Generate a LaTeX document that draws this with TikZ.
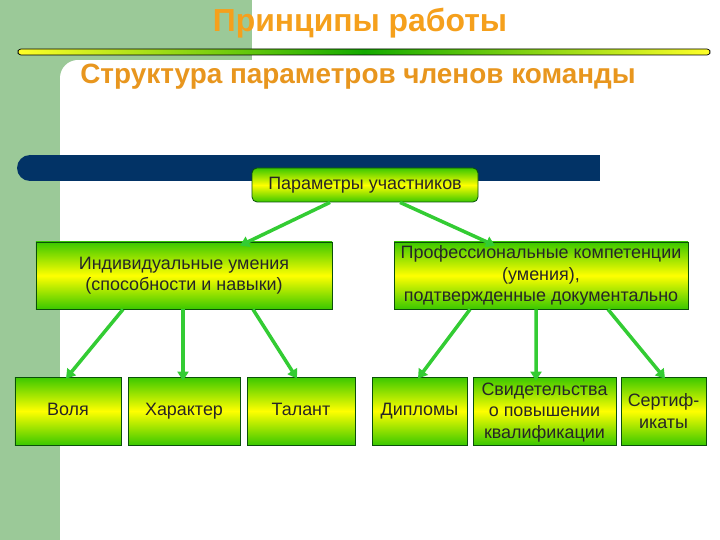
\documentclass[tikz,border=0pt]{standalone}
\usepackage{fontspec}
\setmainfont{Liberation Sans}
\usetikzlibrary{arrows.meta}
\definecolor{stripe}{RGB}{155,201,152}
\definecolor{navy}{RGB}{2,51,102}
\definecolor{ttl}{RGB}{245,160,28}
\definecolor{sub}{RGB}{232,150,30}
\definecolor{bgrn}{RGB}{58,200,0}
\definecolor{byel}{RGB}{255,255,0}
\definecolor{bord}{RGB}{10,80,10}
\definecolor{arr}{RGB}{51,204,51}
\definecolor{lgrn}{RGB}{20,170,0}
\definecolor{lyel}{RGB}{255,255,40}
\tikzset{
  box/.style={draw=bord, line width=0.8bp, top color=bgrn, bottom color=bgrn, middle color=byel,
    align=center, inner sep=0pt, font=\fontsize{18}{21.5}\selectfont, text=black!85},
  single/.style={text height=13bp, text depth=4bp},
  conn/.style={draw=arr, line width=3.5bp, -{Triangle[length=9bp,width=11bp]}},
  ttlstyle/.style={font=\bfseries\fontsize{32}{36}\selectfont},
  substyle/.style={font=\bfseries\fontsize{28}{32}\selectfont}
}
\begin{document}
\begin{tikzpicture}[x=1bp,y=-1bp]
\useasboundingbox (0,0) rectangle (720,540);
% background
\fill[white] (0,0) rectangle (720,540);
\fill[stripe] (0,0) rectangle (252,60);
\fill[stripe] (0,0) rectangle (60,540);
\fill[stripe] (60,60) rectangle (78,78);
\fill[white] (78,78) circle[radius=18bp];
\fill[white] (78,60) rectangle (252,78);
% title line
\draw[black, line width=0.7bp, rounded corners=3bp, left color=lyel, right color=lyel, middle color=lgrn]
  (18,49) rectangle (710,55);
% titles
\node[ttlstyle, text=ttl] (title) at (360,23) {Принципы работы};
\node[substyle, text=sub] (subtitle) at (358,77) {Структура параметров членов команды};
% navy bar
\fill[navy] (30,155) rectangle (600,181);
\fill[navy] (30,168) circle[radius=13bp];
% nodes
\node[box, single, rounded corners=5bp, minimum width=226bp, minimum height=34bp] (top) at (365,185) {Параметры участников};
\node[box, minimum width=296bp, minimum height=67bp] (L) at (184,275.5) {Индивидуальные умения\\(способности и навыки)};
\node[box, minimum width=294bp, minimum height=67bp] (R) at (541,275.5) {Профессиональные компетенции\\(умения),\\подтвержденные документально};
\node[box, single, minimum width=106bp, minimum height=68bp] (v) at (68,411) {Воля};
\node[box, single, minimum width=112bp, minimum height=68bp] (h) at (184,411) {Характер};
\node[box, single, minimum width=108bp, minimum height=68bp] (t) at (301,411) {Талант};
\node[box, single, minimum width=95bp, minimum height=68bp] (d) at (419.5,411) {Дипломы};
\node[box, minimum width=143bp, minimum height=68bp] (s) at (544.5,411) {\strut Свидетельства\\о повышении\\квалификации};
\node[box, minimum width=85bp, minimum height=68bp] (c) at (663.5,411) {Сертиф-\\икаты};
% connectors
\draw[conn] ([xshift=-35bp]top.south) -- ([xshift=56bp,yshift=-4bp]L.north);
\draw[conn] ([xshift=35bp]top.south) -- ([xshift=-46bp,yshift=-4bp]R.north);
\draw[conn] ([xshift=-61bp]L.south) -- ([xshift=-2bp,yshift=-2bp]v.north);
\draw[conn] ([xshift=-1bp]L.south) -- ([xshift=-1bp,yshift=-4bp]h.north);
\draw[conn] ([xshift=69bp]L.south) -- ([xshift=-4bp,yshift=-2bp]t.north);
\draw[conn] ([xshift=-71bp]R.south) -- ([xshift=-1.5bp,yshift=-2bp]d.north);
\draw[conn] ([xshift=-5bp]R.south) -- ([xshift=-8.5bp,yshift=-4bp]s.north);
\draw[conn] ([xshift=67bp]R.south) -- ([xshift=1.5bp,yshift=-2bp]c.north);
\end{tikzpicture}
\end{document}
